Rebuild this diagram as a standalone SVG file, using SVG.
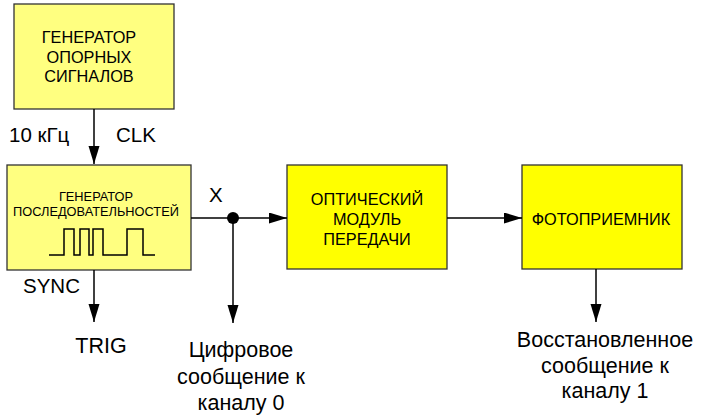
<svg xmlns="http://www.w3.org/2000/svg" width="702" height="415" viewBox="0 0 702 415">
  <style>
    .lt { fill: #FFFF80; stroke: #333333; stroke-width: 1.3; }
    .br { fill: #FFFF00; stroke: #333333; stroke-width: 1.3; }
    .wire { stroke: #000000; stroke-width: 1.5; fill: none; }
    .arr { marker-end: url(#head); }
    text { font-family: "Liberation Sans", Arial, sans-serif; fill: #000000; }
    .t16 { font-size: 16.3px; text-anchor: middle; }
    .t12 { font-size: 12.8px; text-anchor: middle; }
    .lbl { font-size: 20.5px; }
    .out { font-size: 21.5px; text-anchor: middle; }
    .wave { stroke: #000000; stroke-width: 1.5; fill: none; }
  </style>
  <defs>
    <marker id="head" markerUnits="userSpaceOnUse" markerWidth="19" markerHeight="12" refX="18" refY="5.5" orient="auto">
      <path d="M0,0 L18,5.5 L0,11 z" fill="#000000"/>
    </marker>
  </defs>

  <g id="ref-generator">
    <rect class="lt" x="14" y="4" width="160" height="105"/>
    <text class="t16" x="89" y="43">ГЕНЕРАТОР</text>
    <text class="t16" x="89" y="63">ОПОРНЫХ</text>
    <text class="t16" x="89" y="82">СИГНАЛОВ</text>
  </g>

  <g id="seq-generator">
    <rect class="lt" x="7" y="165" width="184" height="105"/>
    <text class="t12" x="96" y="201">ГЕНЕРАТОР</text>
    <text class="t12" x="96" y="216">ПОСЛЕДОВАТЕЛЬНОСТЕЙ</text>
    <path class="wave" d="M49,255 H64 V229 H74 V255 H80 V229 H89 V255 H93 V229 H103 V255 H127 V229 H143 V255 H155"/>
  </g>

  <g id="optical-tx">
    <rect class="br" x="287" y="165" width="160" height="104"/>
    <text class="t16" x="367" y="205">ОПТИЧЕСКИЙ</text>
    <text class="t16" x="367" y="225">МОДУЛЬ</text>
    <text class="t16" x="367" y="245">ПЕРЕДАЧИ</text>
  </g>

  <g id="photoreceiver">
    <rect class="br" x="522" y="165" width="160" height="104"/>
    <text class="t16" x="601" y="225">ФОТОПРИЕМНИК</text>
  </g>

  <g id="connectors">
    <line class="wire arr" x1="94" y1="109" x2="94" y2="164"/>
    <line class="wire arr" x1="191" y1="218" x2="287" y2="218"/>
    <circle cx="233" cy="218" r="6" fill="#000000"/>
    <line class="wire arr" x1="233" y1="218" x2="233" y2="323"/>
    <line class="wire arr" x1="447" y1="218" x2="522" y2="218"/>
    <line class="wire arr" x1="94" y1="270" x2="94" y2="322"/>
    <line class="wire arr" x1="596" y1="269" x2="596" y2="322"/>
  </g>

  <g id="labels">
    <text class="lbl" x="9" y="142">10 кГц</text>
    <text class="lbl" x="116" y="142">CLK</text>
    <text class="lbl" x="209" y="202">X</text>
    <text class="lbl" x="23" y="293">SYNC</text>
    <text class="out" x="101" y="353">TRIG</text>
    <text class="out" x="241" y="357">Цифровое</text>
    <text class="out" x="241" y="384">сообщение к</text>
    <text class="out" x="241" y="410">каналу 0</text>
    <text class="out" x="605" y="347">Восстановленное</text>
    <text class="out" x="605" y="373">сообщение к</text>
    <text class="out" x="605" y="398">каналу 1</text>
  </g>
</svg>
